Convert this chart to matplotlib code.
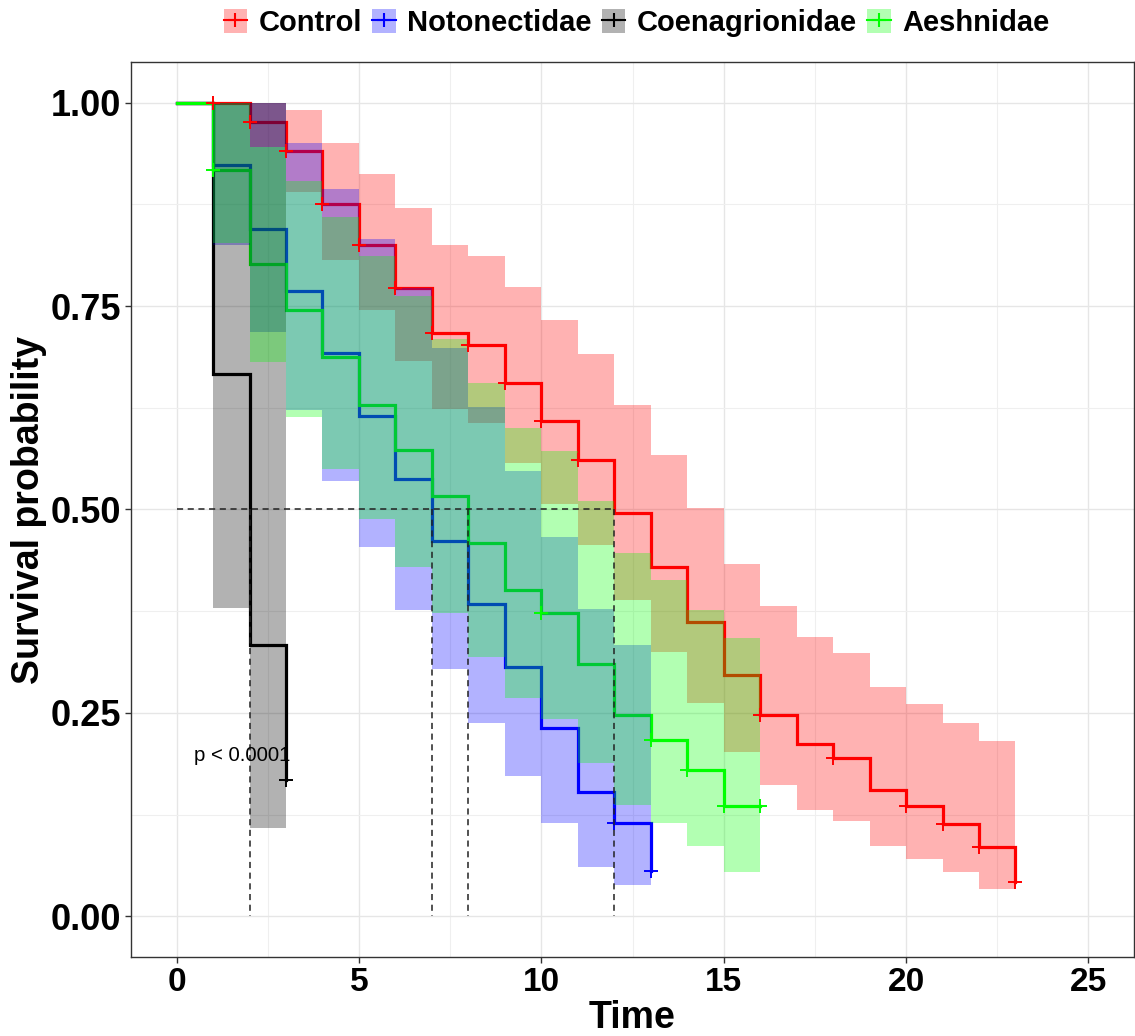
import matplotlib
matplotlib.use("Agg")
import matplotlib.pyplot as plt
import numpy as np
from matplotlib.patches import Patch
from matplotlib.lines import Line2D
from matplotlib.legend_handler import HandlerTuple

# ---------------- data ----------------
groups = ["Control", "Notonectidae", "Coenagrionidae", "Aeshnidae"]
colors = ["#FF0000", "#0000FF", "#000000", "#00FF00"]

control_time = list(range(0, 24))
control_surv = [1, 1, .976, .941, .876, .825, .772, .717, .702, .655, .609, .561,
                .496, .429, .362, .296, .247, .212, .194, .155, .136, .113, .085, .042]
control_upper = [1, 1, 1.0, .991, .951, .912, .870, .825, .812, .773, .733, .691,
                 .629, .567, .502, .433, .381, .343, .324, .282, .261, .238, .216, .216]
control_lower = [1, 1, .945, .890, .807, .745, .683, .623, .606, .557, .507, .456,
                 .389, .325, .262, .202, .161, .131, .117, .086, .071, .054, .033, .033]
control_censor = [1, 2, 3, 4, 5, 6, 7, 8, 9, 10, 11, 16, 18, 20, 21, 22, 23]

noto_time = list(range(0, 14))
noto_surv = [1, .923, .845, .769, .692, .615, .538, .461, .384, .307, .231, .153, .115, .056]
noto_upper = [1, 1.0, 1.0, .950, .894, .833, .772, .698, .626, .547, .466, .378, .334, .334]
noto_lower = [1, .825, .718, .622, .535, .454, .377, .304, .237, .173, .115, .061, .039, .039]
noto_censor = [12, 13]

coen_time = [0, 1, 2, 3]
coen_surv = [1, .667, .333, .167]
coen_upper = [1, 1.0, 1.0, 1.0]
coen_lower = [1, .379, .108, .108]
coen_censor = [3]

aesh_time = list(range(0, 17))
aesh_surv = [1, .917, .802, .745, .687, .629, .573, .516, .459, .401, .373, .310,
             .248, .217, .180, .135, .135]
aesh_upper = [1, 1.0, .945, .904, .859, .811, .763, .710, .656, .600, .572, .510,
              .447, .413, .377, .342, .342]
aesh_lower = [1, .828, .681, .614, .550, .488, .429, .373, .319, .268, .242, .189,
              .137, .115, .086, .054, .054]
aesh_censor = [1, 10, 13, 14, 15, 16]

pval_text = "p < 0.0001"
x_ticks = [0, 5, 10, 15, 20, 25]
y_ticks = [0.00, 0.25, 0.50, 0.75, 1.00]

series = [
    (control_time, control_surv, control_upper, control_lower, control_censor),
    (noto_time, noto_surv, noto_upper, noto_lower, noto_censor),
    (coen_time, coen_surv, coen_upper, coen_lower, coen_censor),
    (aesh_time, aesh_surv, aesh_upper, aesh_lower, aesh_censor),
]

# ---------------- figure ----------------
FONT = "Liberation Sans"
plt.rcParams["font.family"] = [FONT, "DejaVu Sans"]

fig = plt.figure(figsize=(11.35, 10.36), dpi=100)
ax = fig.add_axes([131 / 1135, 1 - 957 / 1036, (1134 - 131) / 1135, (957 - 62) / 1036])

# survival lines
for (t, s, u, l, c), col in zip(series, colors):
    ax.step(t, s, where="post", color=col, lw=2.3, zorder=2, solid_joinstyle="miter")

# confidence ribbons (drawn on top of the lines, as in survminer)
for (t, s, u, l, c), col in zip(series, colors):
    ax.fill_between(t, l, u, step="post", color=col, alpha=0.3, lw=0, zorder=3)

# censor marks
for (t, s, u, l, c), col in zip(series, colors):
    cs = [s[t.index(ct)] for ct in c]
    ax.plot(c, cs, ls="none", marker="+", ms=10, mew=1.4, color=col, zorder=4)

# median survival lines
medians = []
for (t, s, u, l, c) in series:
    idx = next(i for i, v in enumerate(s) if v <= 0.5)
    medians.append(t[idx])
dash = (0, (4, 3))
ax.plot([0, max(medians)], [0.5, 0.5], color="#222222", lw=1.1, ls=dash, zorder=5)
for m in medians:
    ax.plot([m, m], [0.5, 0], color="#222222", lw=1.1, ls=dash, zorder=5)

# p-value
ax.text(1.8, 0.198, pval_text, ha="center", va="center", fontsize=14.7,
        family=[FONT, "DejaVu Sans"], color="black", zorder=6)

# axes styling
ax.set_xlim(-1.25, 26.25)
ax.set_ylim(-0.05, 1.05)
ax.set_xticks(x_ticks)
ax.set_xticklabels([str(v) for v in x_ticks])
ax.set_yticks(y_ticks)
ax.set_yticklabels([f"{v:.2f}" for v in y_ticks])
ax.set_xticks(np.arange(2.5, 26, 5), minor=True)
ax.set_yticks(np.arange(0.125, 1.0, 0.25), minor=True)
ax.grid(which="major", color="#E6E6E6", lw=1.0, zorder=0)
ax.grid(which="minor", color="#EFEFEF", lw=0.8, zorder=0)
ax.set_axisbelow(True)
ax.tick_params(which="minor", length=0)
ax.tick_params(which="major", length=4, width=1, color="#333333", pad=3)
for lab in ax.get_xticklabels():
    lab.set_fontsize(24)
    lab.set_fontweight("bold")
for lab in ax.get_yticklabels():
    lab.set_fontsize(26)
    lab.set_fontweight("bold")
for sp in ax.spines.values():
    sp.set_color("#333333")
    sp.set_linewidth(1.0)

ax.set_xlabel("Time", fontsize=27, fontweight="bold", labelpad=2)
ax.set_ylabel("Survival probability", fontsize=27, fontweight="bold", labelpad=3)

# legend
handles = []
for col in colors:
    patch = Patch(facecolor=col, alpha=0.3, edgecolor="none")
    line = Line2D([0], [0], color=col, lw=1.5, marker="+", ms=10, mew=1.5)
    handles.append((patch, line))
leg = fig.legend(handles, groups, loc="center", bbox_to_anchor=(0.561, 0.978), ncol=4,
                 frameon=False, handler_map={tuple: HandlerTuple(ndivide=1, pad=0)},
                 handlelength=0.8, handleheight=0.9, handletextpad=0.4, columnspacing=0.35,
                 prop={"family": FONT, "weight": "bold", "size": 21})

fig.savefig("out.png", dpi=100)
